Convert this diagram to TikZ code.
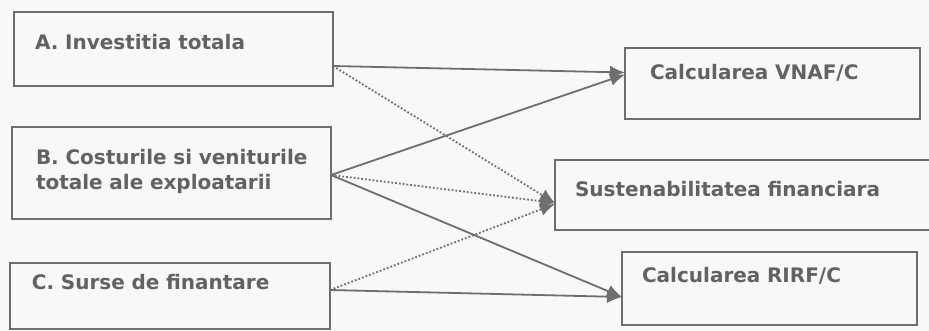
\documentclass[tikz,border=0pt]{standalone}
\usepackage{fontspec}
\setmainfont{DejaVu Sans}
\usepackage{xcolor}
\definecolor{mygray}{HTML}{6E6E6E}
\definecolor{mytext}{HTML}{626262}
\definecolor{mypaper}{HTML}{F8F8F6}
\usepackage{tikz}
\usetikzlibrary{arrows.meta,positioning,calc}
\tikzstyle{block} = [rectangle, draw=mygray, line width=0.8pt, anchor=north west,
align=left, text=mytext, font=\bfseries\fontsize{10}{12.5}\selectfont,
text height=7.3pt, inner ysep=0pt, outer sep=0pt]
\tikzstyle{line} = [draw=mygray, line width=0.9pt, >={Latex[length=7.5pt,width=6.5pt]}, ->]
\tikzstyle{dotline} = [line, densely dotted]

\begin{document}
\begin{tikzpicture}[x=0.5pt, y=-0.5pt]
    % Page
    \fill[mypaper] (0,0) rectangle (929,331);
    \useasboundingbox (0,0) rectangle (929,331);
    \clip (0,0) rectangle (929,331);

    % Nodes
    \node [block, minimum width=159.5pt, minimum height=37pt, inner xsep=10.5pt, text width=138.5pt, text depth=6.7pt] (total) at (14,12) {A. Investitia totala};
    \node [block, minimum width=159.5pt, minimum height=46pt, inner xsep=12pt, text width=135.5pt, text depth=15.7pt] (costs) at (12,127) {\mbox{B. Costurile si veniturile}\\totale ale exploatarii};
    \node [block, minimum width=160pt, minimum height=33pt, inner xsep=11pt, text width=138pt, text depth=13.7pt] (sources) at (10,263) {C. Surse de finantare};

    \node [block, minimum width=147.5pt, minimum height=35.5pt, inner xsep=12.5pt, text width=122.5pt, text depth=11.2pt] (vnaf) at (625,48) {Calcularea VNAF/C};
    \node [block, minimum width=190pt, minimum height=35pt, inner xsep=10pt, text width=170pt, text depth=5.7pt] (sustain) at (555,160) {Sustenabilitatea financiara};
    \node [block, minimum width=147.5pt, minimum height=36.5pt, inner xsep=10pt, text width=127.5pt, text depth=13.2pt] (rirf) at (622,252) {Calcularea RIRF/C};

    % Solid arrows
    \draw[line] ([yshift=-8.5pt]total.east) -- ([yshift=5.5pt]vnaf.west);
    \draw[line] ([yshift=-1pt]costs.east) -- ([yshift=4.5pt]vnaf.west);
    \draw[line] ([yshift=-1pt]costs.east) -- ([yshift=-4.25pt]rirf.west);
    \draw[line] ([yshift=3pt]sources.east) -- ([yshift=-4.25pt]rirf.west);

    % Dotted arrows
    \draw[dotline] ([yshift=-8.5pt]total.east) -- ([yshift=-4pt]sustain.west);
    \draw[dotline] ([yshift=-1pt]costs.east) -- ([yshift=-4pt]sustain.west);
    \draw[dotline] ([yshift=3pt]sources.east) -- ([yshift=-4.5pt]sustain.west);

\end{tikzpicture}
\end{document}
